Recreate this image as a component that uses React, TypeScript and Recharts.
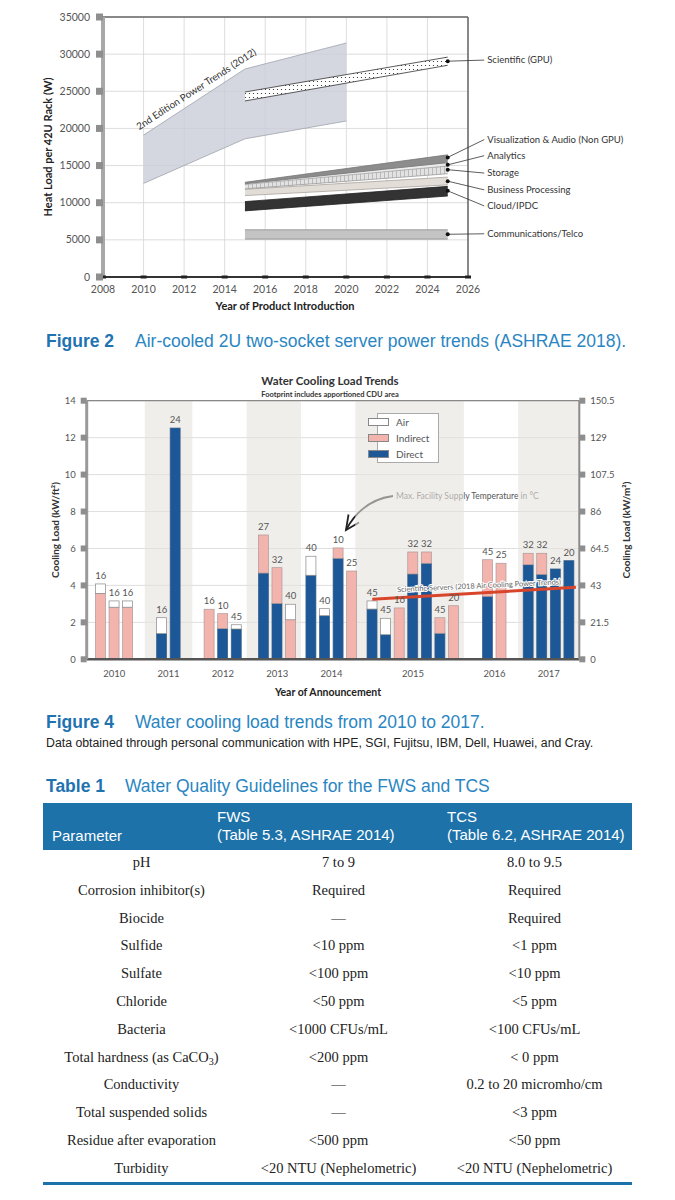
import React from "react";
import {
  ComposedChart,
  Area,
  Bar,
  Line,
  XAxis,
  YAxis,
  CartesianGrid,
  ReferenceLine,
  ReferenceDot,
  ReferenceArea,
  LabelList,
  Legend,
} from "recharts";

// ---------- Figure 2: heat load per 42U rack (W), read at the kink years ----------
const F2_YEARS = [2010, 2015, 2020, 2025];
const TREND2012_LOW = [12600, 18600, 21000, null];
const TREND2012_HIGH = [19100, 28000, 31500, null];
const GPU_LOW = [null, 23700, null, 28500];
const GPU_HIGH = [null, 24900, null, 29600];
const VIS_LOW = [null, 12550, null, 15400];
const VIS_HIGH = [null, 12750, null, 16450];
const ANALYTICS_LOW = [null, 12450, null, 14950];
const ANALYTICS_HIGH = [null, 12650, null, 15400];
const STORAGE_LOW = [null, 11870, null, 13900];
const STORAGE_HIGH = [null, 12550, null, 14950];
const BUSINESS_LOW = [null, 10960, null, 12400];
const BUSINESS_HIGH = [null, 11800, null, 13450];
const CLOUD_LOW = [null, 8900, null, 10900];
const CLOUD_HIGH = [null, 10150, null, 12200];
const TELCO_LOW = [null, 5100, null, 5100];
const TELCO_HIGH = [null, 6350, null, 6350];

const F2_X_TICKS = [2008, 2010, 2012, 2014, 2016, 2018, 2020, 2022, 2024, 2026];
const F2_Y_TICKS = [0, 5000, 10000, 15000, 20000, 25000, 30000, 35000];

const F2_CALLOUTS = [
  "Scientific (GPU)",
  "Visualization & Audio (Non GPU)",
  "Analytics",
  "Storage",
  "Business Processing",
  "Cloud/IPDC",
  "Communications/Telco",
];
// value of each band where its leader line starts (2025)
const F2_CALLOUT_END = [29050, 16100, 15100, 14450, 12900, 11600, 5750];

// ---------- Figure 4: water cooling load (kW/ft²) per announced system ----------
const WC_YEARS = ["2010", "2011", "2012", "2013", "2014", "2015", "2016", "2017"];
const WC_DIRECT = [
  [0, 0, 0],
  [1.39, 12.52],
  [0, 1.66, 1.64],
  [4.67, 3.03, 0],
  [4.55, 2.36, 5.47, 0],
  [2.72, 1.33, 0, 4.62, 5.2, 1.41, 0],
  [3.41, 0],
  [5.12, 4.6, 4.89, 5.34],
];
const WC_INDIRECT = [
  [3.57, 2.82, 2.82],
  [0, 0],
  [2.71, 0.81, 0],
  [2.06, 1.93, 2.14],
  [0, 0, 0.56, 4.78],
  [0, 0, 2.78, 1.19, 0.61, 0.84, 2.9],
  [1.98, 5.2],
  [0.62, 1.14, 0, 0],
];
const WC_AIR = [
  [0.51, 0.34, 0.34],
  [0.86, 0],
  [0, 0, 0.23],
  [0, 0, 0.84],
  [1.03, 0.38, 0, 0],
  [0.44, 0.89, 0, 0, 0, 0, 0],
  [0, 0],
  [0, 0, 0, 0],
];
// max facility supply temperature (°C) printed above each bar
const WC_TEMP = [
  [16, 16, 16],
  [16, 24],
  [16, 10, 45],
  [27, 32, 40],
  [40, 40, 10, 25],
  [45, 45, 16, 32, 32, 45, 20],
  [45, 25],
  [32, 32, 24, 20],
];
const WC_LEFT_TICKS = [0, 2, 4, 6, 8, 10, 12, 14];
const WC_RIGHT_TICKS = [0, 21.5, 43, 64.5, 86, 107.5, 129, 150.5];
const FT2_TO_M2 = 10.75;
const SCI_TREND = [3.25, 3.9]; // 2018 air cooling trend, start of 2015 -> right edge

// ---------- Table 1 ----------
const WQ_PARAMETERS = [
  "pH",
  "Corrosion inhibitor(s)",
  "Biocide",
  "Sulfide",
  "Sulfate",
  "Chloride",
  "Bacteria",
  "Total hardness (as CaCO3)",
  "Conductivity",
  "Total suspended solids",
  "Residue after evaporation",
  "Turbidity",
];
const WQ_FWS = [
  "7 to 9",
  "Required",
  "—",
  "<10 ppm",
  "<100 ppm",
  "<50 ppm",
  "<1000 CFUs/mL",
  "<200 ppm",
  "—",
  "—",
  "<500 ppm",
  "<20 NTU (Nephelometric)",
];
const WQ_TCS = [
  "8.0 to 9.5",
  "Required",
  "Required",
  "<1 ppm",
  "<10 ppm",
  "<5 ppm",
  "<100 CFUs/mL",
  "< 0 ppm",
  "0.2 to 20 micromho/cm",
  "<3 ppm",
  "<50 ppm",
  "<20 NTU (Nephelometric)",
];

const CHART_FONT = "Lato, 'Open Sans', sans-serif";
const DOC_FONT = "'Liberation Sans', Arial, sans-serif";
const SERIF_FONT = "'Liberation Serif', 'Times New Roman', serif";
const BLUE = "#1c5898";
const PINK = "#f4b4ae";
const TABLE_BLUE = "#1d72aa";

// leader label heights (W) on the right of figure 2
const CALLOUT_LABEL_Y = [29200, 18500, 16330, 13990, 11730, 9570, 5820];
const CALLOUT_LABEL_X = 2026.8;

const band = (lo: number | null, hi: number | null) => (lo == null || hi == null ? null : [lo, hi]);

function F2YTick({ x, y, payload }: any) {
  return (
    <g>
      <text x={x} y={y + 3.5} textAnchor="end" fontSize={10.5} fill="#555" fontFamily={CHART_FONT}>
        {payload.value}
      </text>
      <rect x={x + 6} y={y - 3.5} width={7} height={7} fill="#8e8e8e" />
    </g>
  );
}

function F2XTick({ x, y, payload }: any) {
  return (
    <g>
      <rect x={x - 3} y={y - 9.5} width={6} height={3} fill="#222" />
      <text x={x} y={y + 7.5} textAnchor="middle" fontSize={10.5} fill="#555" fontFamily={CHART_FONT}>
        {payload.value}
      </text>
    </g>
  );
}

function PowerTrendsChart() {
  const data = F2_YEARS.map((year, i) => ({
    year,
    trend2012: band(TREND2012_LOW[i], TREND2012_HIGH[i]),
    gpu: band(GPU_LOW[i], GPU_HIGH[i]),
    telco: band(TELCO_LOW[i], TELCO_HIGH[i]),
    cloud: band(CLOUD_LOW[i], CLOUD_HIGH[i]),
    business: band(BUSINESS_LOW[i], BUSINESS_HIGH[i]),
    storage: band(STORAGE_LOW[i], STORAGE_HIGH[i]),
    analytics: band(ANALYTICS_LOW[i], ANALYTICS_HIGH[i]),
    vis: band(VIS_LOW[i], VIS_HIGH[i]),
  }));

  const areaProps = { type: "linear" as const, connectNulls: true, isAnimationActive: false };

  return (
    <ComposedChart width={675} height={320} data={data} margin={{ top: 17, right: 207, bottom: 18, left: 53 }}>
      <defs>
        <pattern id="gpuDots" width="4" height="4" patternUnits="userSpaceOnUse">
          <rect width="4" height="4" fill="#fff" />
          <circle cx="1.5" cy="1.5" r="0.6" fill="#222" />
        </pattern>
        <pattern id="storageGrid" width="4" height="4" patternUnits="userSpaceOnUse">
          <rect width="4" height="4" fill="#e2e2e2" />
          <line x1="0.5" y1="0" x2="0.5" y2="4" stroke="#a9a9a9" strokeWidth="0.7" />
        </pattern>
      </defs>
      <CartesianGrid stroke="#d4d4d4" strokeWidth={0.8} />
      <XAxis
        type="number"
        dataKey="year"
        domain={[2008, 2026]}
        ticks={F2_X_TICKS}
        interval={0}
        height={25}
        tickSize={0}
        tickMargin={8}
        tickLine={false}
        axisLine={{ stroke: "#333", strokeWidth: 2 }}
        tick={(p: any) => <F2XTick {...p} />}
      />
      <YAxis
        domain={[0, 35000]}
        ticks={F2_Y_TICKS}
        interval={0}
        width={50}
        tickSize={0}
        tickMargin={13}
        tickLine={false}
        axisLine={{ stroke: "#a8a8a8", strokeWidth: 4 }}
        tick={(p: any) => <F2YTick {...p} />}
      />
      <ReferenceLine y={35000} stroke="#666" strokeWidth={1.5} />
      <ReferenceLine x={2026} stroke="#666" strokeWidth={1.5} />

      <Area dataKey="trend2012" {...areaProps} fill="#c9cdd8" fillOpacity={0.8} stroke="#9ea3ad" strokeWidth={0.8} />
      <Area dataKey="gpu" {...areaProps} fill="url(#gpuDots)" fillOpacity={1} stroke="#333" strokeWidth={0.8} />
      <Area dataKey="telco" {...areaProps} fill="#c4c4c4" fillOpacity={1} stroke="#8a8a8a" strokeWidth={0.8} />
      <Area dataKey="cloud" {...areaProps} fill="#333" fillOpacity={1} stroke="#222" strokeWidth={0.8} />
      <Area dataKey="business" {...areaProps} fill="#e2ddd7" fillOpacity={1} stroke="#a8a39d" strokeWidth={0.8} />
      <Area dataKey="storage" {...areaProps} fill="url(#storageGrid)" fillOpacity={1} stroke="#999" strokeWidth={0.8} />
      <Area dataKey="analytics" {...areaProps} fill="#ececec" fillOpacity={1} stroke="#aaa" strokeWidth={0.8} />
      <Area dataKey="vis" {...areaProps} fill="#8c8c8c" fillOpacity={1} stroke="#777" strokeWidth={0.8} />

      {F2_CALLOUTS.map((name, i) => (
        <ReferenceLine
          key={`lead-${name}`}
          segment={[
            { x: 2025, y: F2_CALLOUT_END[i] },
            { x: CALLOUT_LABEL_X, y: CALLOUT_LABEL_Y[i] },
          ]}
          stroke="#333"
          strokeWidth={0.8}
          ifOverflow="visible"
        />
      ))}
      {F2_CALLOUTS.map((name, i) => (
        <ReferenceDot
          key={`end-${name}`}
          x={2025}
          y={F2_CALLOUT_END[i]}
          r={2}
          fill="#111"
          stroke="none"
          ifOverflow="visible"
        />
      ))}
      {F2_CALLOUTS.map((name, i) => (
        <ReferenceDot
          key={`lab-${name}`}
          x={CALLOUT_LABEL_X}
          y={CALLOUT_LABEL_Y[i]}
          r={0}
          fill="none"
          stroke="none"
          ifOverflow="visible"
          label={{ value: name, position: "right", offset: 3, fontSize: 9.5, fill: "#333", fontFamily: CHART_FONT }}
        />
      ))}

      <text
        transform="translate(198,92) rotate(-33)"
        textAnchor="middle"
        fontSize={9.8}
        fill="#333"
        fontFamily={CHART_FONT}
      >
        2nd Edition Power Trends (2012)
      </text>
      <text
        transform="translate(52,147) rotate(-90)"
        textAnchor="middle"
        fontSize={11}
        fontWeight="bold"
        fill="#222"
        fontFamily={CHART_FONT}
      >
        Heat Load per 42U Rack (W)
      </text>
      <text x={285} y={310} textAnchor="middle" fontSize={11} fontWeight="bold" fill="#222" fontFamily={CHART_FONT}>
        Year of Product Introduction
      </text>
    </ComposedChart>
  );
}

// half-slot spacer columns before each year group (matches the uneven spacing of the original)
const GAP_BEFORE = [0, 4, 4, 3, 2, 2, 4, 3];
const SHADED = [
  { g: 1, before: 2, after: 2 },
  { g: 3, before: 2, after: 1 },
  { g: 5, before: 2, after: 1 },
  { g: 7, before: 1, after: 1 },
];

function buildCoolingRows() {
  const rows: any[] = [];
  const yearAt: Record<string, string> = {};
  const firstIdx: number[] = [];
  const lastIdx: number[] = [];
  const spacer = () => {
    const key = `c${rows.length}`;
    rows.push({ key });
    return rows.length - 1;
  };
  WC_YEARS.forEach((year, g) => {
    for (let s = 0; s < GAP_BEFORE[g]; s++) spacer();
    const count = WC_TEMP[g].length;
    const idxs: number[] = [];
    for (let i = 0; i < count; i++) {
      if (i > 0) idxs.push(spacer());
      const direct = WC_DIRECT[g][i];
      const indirect = WC_INDIRECT[g][i];
      const air = WC_AIR[g][i];
      const total = direct + indirect + air;
      rows.push({
        key: `c${rows.length}`,
        direct,
        indirect,
        air,
        total,
        totalM2: total * FT2_TO_M2,
        temp: WC_TEMP[g][i],
      });
      idxs.push(rows.length - 1);
    }
    yearAt[rows[idxs[count - 1]].key] = year;
    firstIdx.push(idxs[0]);
    lastIdx.push(idxs[idxs.length - 1]);
  });
  const endIdx = spacer();
  return { rows, yearAt, firstIdx, lastIdx, endIdx };
}

function WideBar(props: any) {
  const { x, y, width, height, fill, stroke } = props;
  if (!height || height <= 0) return <g />;
  const w = 10;
  return (
    <rect x={x + width / 2 - w / 2} y={y} width={w} height={height} fill={fill} stroke={stroke} strokeWidth={0.7} />
  );
}

const LEGEND_ITEMS = [
  { name: "Air", color: "#ffffff" },
  { name: "Indirect", color: PINK },
  { name: "Direct", color: BLUE },
];

function CoolingLegend() {
  return (
    <div style={{ position: "relative", width: 72, height: 50, fontFamily: CHART_FONT }}>
      <div
        style={{
          position: "absolute",
          left: 9,
          top: 0,
          width: 60,
          height: 48,
          border: "1px solid #aaa",
          background: "#fff",
        }}
      />
      {LEGEND_ITEMS.map((it, i) => (
        <div
          key={it.name}
          style={{ position: "absolute", left: 0, top: 3.5 + i * 16, height: 10, display: "flex", alignItems: "center" }}
        >
          <span
            style={{
              display: "inline-block",
              width: 19,
              height: 6,
              background: it.color,
              border: "1px solid #888",
              marginRight: 7,
            }}
          />
          <span style={{ fontSize: 10, color: "#555", lineHeight: "10px" }}>{it.name}</span>
        </div>
      ))}
    </div>
  );
}

function SciTrendLabel({ viewBox }: any) {
  if (!viewBox) return null;
  const cx = viewBox.x + viewBox.width / 2 + 5;
  const cy = viewBox.y + viewBox.height / 2 - 5;
  return (
    <text
      transform={`translate(${cx},${cy}) rotate(-2.7)`}
      textAnchor="middle"
      fontSize={7.5}
      fill="#666"
      stroke="#fff"
      strokeWidth={2}
      paintOrder="stroke"
      fontFamily={CHART_FONT}
    >
      Scientific Servers (2018 Air Cooling Power Trends)
    </text>
  );
}

function CoolingChart() {
  const { rows, yearAt, firstIdx, lastIdx, endIdx } = buildCoolingRows();
  const yearKeys = Object.keys(yearAt);

  const leftTick = ({ x, y, payload }: any) => (
    <g>
      <text x={x} y={y + 3.5} textAnchor="end" fontSize={9.5} fill="#555" fontFamily={CHART_FONT}>
        {payload.value}
      </text>
      <rect x={x + 5} y={y - 3} width={6} height={6} fill="#8e8e8e" />
    </g>
  );
  const rightTick = ({ x, y, payload }: any) => (
    <g>
      <rect x={x - 11} y={y - 3} width={6} height={6} fill="#8e8e8e" />
      <text x={x} y={y + 3.5} textAnchor="start" fontSize={9.5} fill="#555" fontFamily={CHART_FONT}>
        {payload.value}
      </text>
    </g>
  );
  const bottomTick = ({ x, y, payload }: any) => (
    <text x={x} y={y + 10} textAnchor="middle" fontSize={9.5} fill="#555" fontFamily={CHART_FONT}>
      {yearAt[payload.value] ?? ""}
    </text>
  );

  return (
    <ComposedChart width={675} height={345} data={rows} margin={{ top: 40.7, right: 65.7, bottom: 25.7, left: 56.7 }}>
      <CartesianGrid vertical={false} yAxisId="left" stroke="#d6d6d6" strokeWidth={0.8} />
      <XAxis
        dataKey="key"
        type="category"
        padding={{ left: 10.6, right: 0 }}
        ticks={yearKeys}
        interval={0}
        height={20}
        tickSize={0}
        tickMargin={8}
        tickLine={false}
        axisLine={{ stroke: "#555", strokeWidth: 2.5 }}
        tick={bottomTick}
      />
      <YAxis
        yAxisId="left"
        domain={[0, 14]}
        ticks={WC_LEFT_TICKS}
        interval={0}
        width={30}
        tickSize={0}
        tickMargin={11}
        tickLine={false}
        axisLine={{ stroke: "#9a9a9a", strokeWidth: 3 }}
        tick={leftTick}
      />
      <YAxis
        yAxisId="right"
        orientation="right"
        type="number"
        domain={[0, 150.5]}
        allowDataOverflow
        ticks={WC_RIGHT_TICKS}
        interval={0}
        width={30}
        tickSize={0}
        tickMargin={11}
        tickLine={false}
        axisLine={{ stroke: "#8a8a8a", strokeWidth: 2 }}
        tick={rightTick}
      />
      {SHADED.map(({ g, before, after }) => (
        <ReferenceArea
          key={`shade-${g}`}
          yAxisId="left"
          x1={rows[firstIdx[g] - before].key}
          x2={rows[Math.min(lastIdx[g] + after, endIdx)].key}
          fill="#e6e2de"
          fillOpacity={0.6}
          stroke="none"
        />
      ))}
      <ReferenceLine yAxisId="left" y={14} stroke="#888" strokeWidth={1.2} />

      <Bar dataKey="direct" stackId="wc" yAxisId="left" fill={BLUE} stroke="#3a5f86" shape={WideBar} isAnimationActive={false} />
      <Bar dataKey="indirect" stackId="wc" yAxisId="left" fill={PINK} stroke="#a99" shape={WideBar} isAnimationActive={false} />
      <Bar dataKey="air" stackId="wc" yAxisId="left" fill="#ffffff" stroke="#888" shape={WideBar} isAnimationActive={false} />
      <Line
        dataKey="total"
        yAxisId="left"
        stroke="none"
        dot={false}
        activeDot={false}
        isAnimationActive={false}
      >
        <LabelList dataKey="temp" position="top" offset={5} fontSize={9.5} fill="#555" fontFamily={CHART_FONT} />
      </Line>
      {/* same totals in kW/m² so the right axis is bound to data */}
      <Line dataKey="totalM2" yAxisId="right" stroke="none" dot={false} activeDot={false} isAnimationActive={false} />

      <ReferenceLine
        yAxisId="left"
        segment={[
          { x: rows[firstIdx[5]].key, y: SCI_TREND[0] },
          { x: rows[endIdx].key, y: SCI_TREND[1] },
        ]}
        stroke="#d9452b"
        strokeWidth={3}
        ifOverflow="visible"
        label={{ content: (p: any) => <SciTrendLabel {...p} /> }}
      />

      <Legend
        layout="vertical"
        align="center"
        verticalAlign="middle"
        content={() => <CoolingLegend />}
        wrapperStyle={{ position: "absolute", left: 368, top: 53, width: 72, height: 50 }}
      />

      <text x={330} y={24.5} textAnchor="middle" fontSize={11.5} fontWeight="bold" fill="#333" fontFamily={CHART_FONT}>
        Water Cooling Load Trends
      </text>
      <text x={330} y={37} textAnchor="middle" fontSize={7.5} fontWeight="bold" fill="#333" fontFamily={CHART_FONT}>
        Footprint includes apportioned CDU area
      </text>
      <text x={396} y={139} fontSize={8.5} fill="#555" fontFamily={CHART_FONT}>
        Max. Facility Supply Temperature in °C
      </text>
      <path d="M393,136 Q362,140 346,170" fill="none" stroke="#222" strokeWidth={1.8} />
      <path d="M359,162.5 L346,170 L348.5,154.5" fill="none" stroke="#222" strokeWidth={1.8} />
      <text
        transform="translate(55,170) rotate(-90)"
        textAnchor="middle"
        dominantBaseline="central"
        fontSize={10}
        fontWeight="bold"
        fill="#333"
        fontFamily={CHART_FONT}
      >
        Cooling Load (kW/ft²)
      </text>
      <text
        transform="translate(626,170) rotate(-90)"
        textAnchor="middle"
        dominantBaseline="central"
        fontSize={10}
        fontWeight="bold"
        fill="#333"
        fontFamily={CHART_FONT}
      >
        Cooling Load (kW/m²)
      </text>
      <text x={328} y={336} textAnchor="middle" fontSize={10.5} fontWeight="bold" fill="#222" fontFamily={CHART_FONT}>
        Year of Announcement
      </text>
    </ComposedChart>
  );
}

function Caption({ top, label, labelWidth, text }: { top: number; label: string; labelWidth: number; text: string }) {
  return (
    <div
      style={{
        position: "absolute",
        left: 46,
        top,
        fontFamily: DOC_FONT,
        fontSize: 17.5,
        lineHeight: "20px",
        whiteSpace: "nowrap",
        color: "#2a86c2",
      }}
    >
      <span style={{ display: "inline-block", width: labelWidth, fontWeight: "bold", color: "#1f73b0" }}>{label}</span>
      {text}
    </div>
  );
}

function cellText(s: string) {
  const parts = s.split("CaCO3");
  if (parts.length !== 2) return s;
  return (
    <>
      {parts[0]}CaCO<sub style={{ fontSize: "0.7em", verticalAlign: "-0.3em", lineHeight: 0 }}>3</sub>
      {parts[1]}
    </>
  );
}

function QualityTable() {
  const colW = [197, 197, 195];
  const rowH = 27.8;
  return (
    <div style={{ position: "absolute", left: 43, top: 803, width: 589, height: 384 }}>
      <div
        style={{
          position: "absolute",
          left: 0,
          top: 0,
          width: 589,
          height: 47,
          background: TABLE_BLUE,
          color: "#fff",
          fontFamily: DOC_FONT,
          fontSize: 15,
          lineHeight: "18px",
          whiteSpace: "nowrap",
        }}
      >
        <div style={{ position: "absolute", left: 9, top: 24 }}>Parameter</div>
        <div style={{ position: "absolute", left: 174, top: 5 }}>
          FWS
          <br />
          (Table 5.3, ASHRAE 2014)
        </div>
        <div style={{ position: "absolute", left: 404, top: 5 }}>
          TCS
          <br />
          (Table 6.2, ASHRAE 2014)
        </div>
      </div>
      {WQ_PARAMETERS.map((param, i) => {
        const cells = [param, WQ_FWS[i], WQ_TCS[i]];
        let left = 0;
        return (
          <div key={param} style={{ position: "absolute", left: 0, top: 49 + i * rowH, width: 589, height: 20 }}>
            {cells.map((c, j) => {
              const el = (
                <div
                  key={j}
                  style={{
                    position: "absolute",
                    left,
                    top: 0,
                    width: colW[j],
                    textAlign: "center",
                    fontFamily: SERIF_FONT,
                    fontSize: 14.5,
                    lineHeight: "20px",
                    color: "#222",
                    whiteSpace: "nowrap",
                  }}
                >
                  {cellText(c)}
                </div>
              );
              left += colW[j];
              return el;
            })}
          </div>
        );
      })}
      <div style={{ position: "absolute", left: 0, top: 379, width: 589, height: 3, background: TABLE_BLUE }} />
    </div>
  );
}

export default function App() {
  return (
    <div
      style={{
        position: "absolute",
        left: 0,
        top: 0,
        width: 675,
        height: 1200,
        background: "#fff",
        overflow: "hidden",
      }}
    >
      <div style={{ position: "absolute", left: 0, top: 0 }}>
        <PowerTrendsChart />
      </div>
      <Caption top={331} label="Figure 2" labelWidth={89} text="Air-cooled 2U two-socket server power trends (ASHRAE 2018)." />
      <div style={{ position: "absolute", left: 0, top: 360 }}>
        <CoolingChart />
      </div>
      <Caption top={712} label="Figure 4" labelWidth={89} text="Water cooling load trends from 2010 to 2017." />
      <div
        style={{
          position: "absolute",
          left: 46,
          top: 736,
          fontFamily: DOC_FONT,
          fontSize: 12.3,
          lineHeight: "14px",
          color: "#222",
          whiteSpace: "nowrap",
        }}
      >
        Data obtained through personal communication with HPE, SGI, Fujitsu, IBM, Dell, Huawei, and Cray.
      </div>
      <Caption top={776} label="Table 1" labelWidth={79} text="Water Quality Guidelines for the FWS and TCS" />
      <QualityTable />
    </div>
  );
}
